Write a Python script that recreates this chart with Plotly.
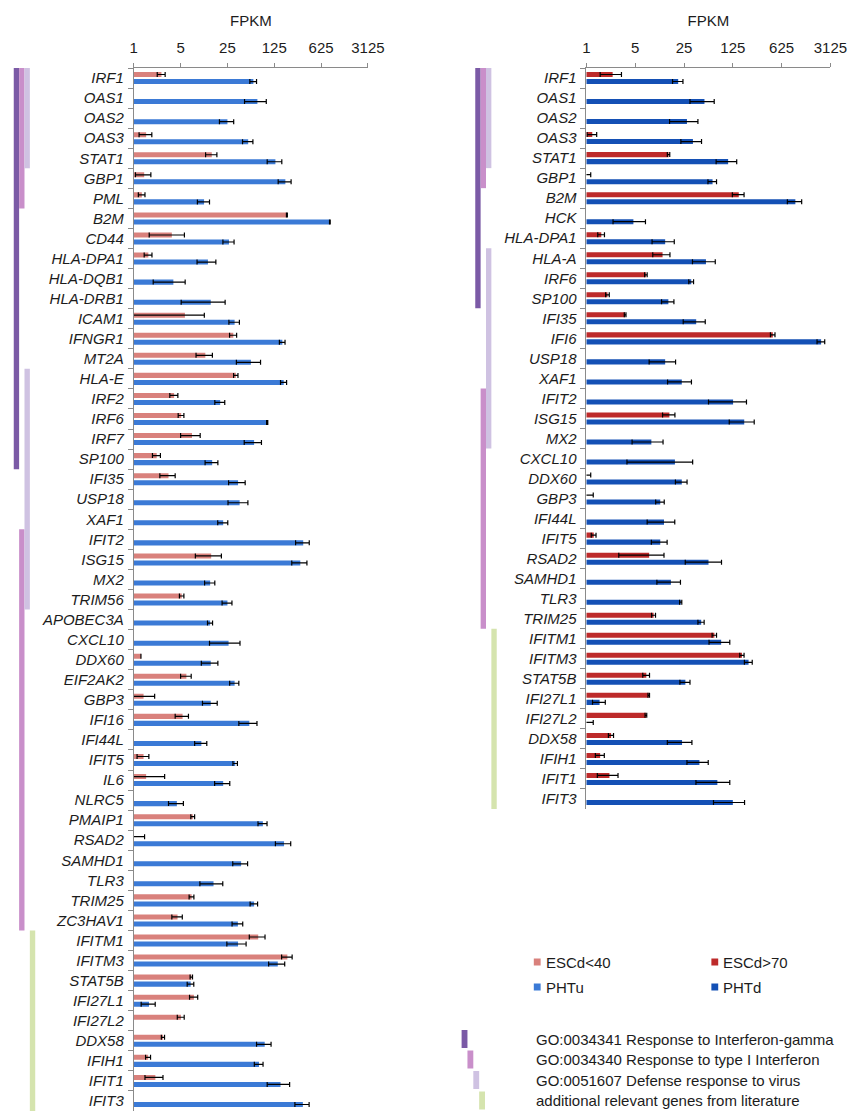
import math
import plotly.graph_objects as go

# ---------------- data ----------------
left_genes = [
    "IRF1", "OAS1", "OAS2", "OAS3", "STAT1", "GBP1", "PML", "B2M", "CD44", "HLA-DPA1",
    "HLA-DQB1", "HLA-DRB1", "ICAM1", "IFNGR1", "MT2A", "HLA-E", "IRF2", "IRF6", "IRF7", "SP100",
    "IFI35", "USP18", "XAF1", "IFIT2", "ISG15", "MX2", "TRIM56", "APOBEC3A", "CXCL10", "DDX60",
    "EIF2AK2", "GBP3", "IFI16", "IFI44L", "IFIT5", "IL6", "NLRC5", "PMAIP1", "RSAD2", "SAMHD1",
    "TLR3", "TRIM25", "ZC3HAV1", "IFITM1", "IFITM3", "STAT5B", "IFI27L1", "IFI27L2", "DDX58", "IFIH1",
    "IFIT1", "IFIT3",
]
esc_early = [
    2.59, None, None, 1.53, 14.6, 1.43, 1.32, 193, 3.7, 1.65,
    None, None, 5.8, 30.6, 11.7, 33.4, 4.0, 5.1, 7.4, 2.2,
    3.3, None, None, None, 14.3, None, 5.2, None, None, 1.28,
    6.1, 1.4, 5.35, None, 1.4, 1.53, None, 7.6, 0.95, None,
    None, 7.3, 4.5, 72, 196, 7.23, 7.9, 5.06, 2.73, 1.64,
    2.1, None,
]
esc_early_err = [
    0.35, 0, 0, 0.33, 2.8, 0.37, 0.15, 3, 2.0, 0.22,
    0, 0, 5.5, 3.7, 3.2, 2.5, 0.55, 0.5, 2.4, 0.3,
    0.85, 0, 0, 0, 6.0, 0, 0.4, 0, 0, 0,
    1.1, 0.65, 1.2, 0, 0.28, 1.36, 0, 0.5, 0.5, 0,
    0, 0.6, 0.8, 19, 35, 0.3, 1.1, 0.6, 0.15, 0.14,
    0.63, 0,
]
pht_u = [
    61, 70, 25, 51, 130, 183, 11.2, 845, 26.4, 12.8,
    3.9, 14.1, 32, 165, 56, 173, 19.5, 98, 62.5, 14.8,
    36, 38, 21.6, 338, 306, 13.8, 25, 13.8, 26, 14.1,
    32, 14.1, 53, 10.2, 32.7, 21.6, 4.4, 84.5, 175, 40,
    15.5, 62.5, 35.8, 36, 141, 7.07, 1.69, None, 90, 74,
    155, 334,
]
pht_u_err = [
    7, 25, 6, 9, 32, 40, 2.3, 10, 5, 4,
    1.95, 9, 5.7, 16, 22, 18, 3.3, 2, 18, 3.2,
    10, 12.5, 3.7, 78, 78, 2.4, 4.2, 1.2, 12.5, 3.9,
    5, 3.5, 16, 2.1, 2.5, 5.5, 1.1, 13, 45, 10,
    5.8, 8, 6.5, 11.5, 38, 0.8, 0.4, 0, 22, 11,
    57, 80,
]

right_genes = [
    "IRF1", "OAS1", "OAS2", "OAS3", "STAT1", "GBP1", "B2M", "HCK", "HLA-DPA1", "HLA-A",
    "IRF6", "SP100", "IFI35", "IFI6", "USP18", "XAF1", "IFIT2", "ISG15", "MX2", "CXCL10",
    "DDX60", "GBP3", "IFI44L", "IFIT5", "RSAD2", "SAMHD1", "TLR3", "TRIM25", "IFITM1", "IFITM3",
    "STAT5B", "IFI27L1", "IFI27L2", "DDX58", "IFIH1", "IFIT1", "IFIT3",
]
esc_late = [
    2.37, None, None, 1.21, 15, 0.98, 152, None, 1.63, 12.3,
    7.1, 2.0, 3.58, 467, None, None, None, 15.4, None, None,
    0.95, 0.95, None, 1.27, 7.9, None, None, 9.15, 68, 169,
    7.2, 7.8, 7.1, 2.25, 1.57, 2.13, None,
]
esc_late_err = [
    0.8, 0, 0, 0.19, 0.6, 0.17, 29, 0, 0.18, 3.4,
    0.3, 0.12, 0.1, 35, 0, 0, 0, 3.1, 0, 0,
    0.2, 0.3, 0, 0.1, 5, 0, 0, 0.6, 5, 12,
    0.8, 0.2, 0.2, 0.19, 0.23, 0.7, 0,
]
pht_d = [
    20.6, 49, 27.5, 33.5, 107, 64, 983, 4.7, 13.4, 51.5,
    31.7, 14.9, 37.3, 2300, 13.4, 23.2, 126, 182, 8.5, 18.5,
    23.2, 11.4, 12.9, 11.4, 56, 16.2, 22.4, 44, 85, 210,
    26.1, 1.54, 0.95, 23.4, 41.5, 75, 125,
]
pht_d_err = [
    3.5, 18.6, 12, 11, 35, 9, 228, 2.3, 4.7, 18.5,
    2.5, 3, 13, 290, 5.5, 8.7, 70, 71, 4, 14.7,
    4.4, 1.6, 5.5, 2.9, 30, 6, 0.8, 4.5, 28, 27,
    4.3, 0.32, 0.3, 9, 14, 38, 59,
]

series_names = ["ESCd<40", "PHTu", "ESCd>70", "PHTd"]
tick_values = [1, 5, 25, 125, 625, 3125]
axis_title = "FPKM"

go_terms = [
    "GO:0034341 Response to Interferon-gamma",
    "GO:0034340 Response to type I Interferon",
    "GO:0051607 Defense response to virus",
    "additional relevant genes from literature",
]
# gene ranges (first, last) annotated with each term, per panel
left_spans = [
    [("IRF1", "SP100")],
    [("IRF1", "PML"), ("IFIT2", "ZC3HAV1")],
    [("IRF1", "STAT1"), ("HLA-E", "TRIM56")],
    [("IFITM1", "IFIT3")],
]
right_spans = [
    [("IRF1", "SP100")],
    [("IRF1", "GBP1"), ("IFIT2", "TRIM25")],
    [("IRF1", "STAT1"), ("HLA-A", "MX2")],
    [("IFITM1", "IFIT3")],
]

# ---------------- styling ----------------
W, H = 864, 1111
FONT = "Arial, 'Liberation Sans', Helvetica, sans-serif"
TEXT = "#1c1c1c"
AXIS = "#8a8a8a"
series_colors = ["#d9817c", "#3b7ad6", "#bd2a2a", "#1450b5"]
term_colors = ["#7b5aa6", "#c98fca", "#cfc2e2", "#d5e4ae"]


def px_x(p):
    return p / W


def px_y(p):
    return 1 - p / H


err_style = dict(type="data", color="black", thickness=1.2, width=2.5, visible=True)

fig = go.Figure()
panels = [
    ("x", "y", left_genes, [(esc_early, esc_early_err), (pht_u, pht_u_err)], [0, 1]),
    ("x2", "y2", right_genes, [(esc_late, esc_late_err), (pht_d, pht_d_err)], [2, 3]),
]
for xa, ya, genes, pairs, idx in panels:
    for (vals, errs), k in zip(pairs, idx):
        fig.add_trace(go.Bar(
            y=genes, x=vals, orientation="h", name=series_names[k],
            marker=dict(color=series_colors[k], line=dict(width=0)),
            error_x=dict(array=errs, **err_style),
            xaxis=xa, yaxis=ya, showlegend=False,
        ))

x_common = dict(
    type="log", range=[0, math.log10(tick_values[-1])], side="top",
    tickmode="array", tickvals=tick_values, ticktext=[str(v) for v in tick_values],
    ticks="outside", ticklen=4, tickcolor=AXIS, tickwidth=1,
    showline=True, linecolor=AXIS, linewidth=1,
    showgrid=False, zeroline=False,
    tickfont=dict(size=15, color=TEXT, family=FONT),
    ticklabelstandoff=4,
    title=dict(text=axis_title, font=dict(size=15, color=TEXT, family=FONT), standoff=8),
)
y_common = dict(
    type="category", categoryorder="array",
    showline=True, linecolor=AXIS, linewidth=1,
    ticks="outside", tickson="boundaries", ticklen=5, tickcolor=AXIS, tickwidth=1,
    showgrid=False, zeroline=False,
    tickfont=dict(size=15, color=TEXT, family=FONT, style="italic"),
    ticklabelstandoff=6,
)

fig.update_layout(
    width=W, height=H,
    margin=dict(l=0, r=0, t=0, b=0),
    paper_bgcolor="white", plot_bgcolor="white",
    font=dict(family=FONT, color=TEXT, size=15),
    barmode="group", bargap=0.3, bargroupgap=0.28,
    xaxis=dict(domain=[px_x(133), px_x(373)], anchor="y", **x_common),
    yaxis=dict(domain=[0, px_y(68)], anchor="x", categoryarray=left_genes,
               range=[len(left_genes) - 0.5, -0.5], **y_common),
    xaxis2=dict(domain=[px_x(597), px_x(847)], anchor="y2", **x_common),
    yaxis2=dict(domain=[px_y(809), px_y(68)], anchor="x2", categoryarray=right_genes,
                range=[len(right_genes) - 0.5, -0.5], **y_common),
)

# ---------------- GO-term strips beside each panel ----------------
shapes = []
strip_w = 5.5
for genes, spans, yref, x_start in [(left_genes, left_spans, "y", 10), (right_genes, right_spans, "y2", 483)]:
    for k, term_spans in enumerate(spans):
        x0 = x_start + k * strip_w
        for first, last in term_spans:
            shapes.append(dict(
                type="rect", xref="paper", yref=yref,
                x0=px_x(x0), x1=px_x(x0 + strip_w),
                y0=genes.index(first) - 0.5, y1=genes.index(last) + 0.5,
                fillcolor=term_colors[k], line=dict(width=0), layer="above",
            ))

annotations = []
# series legend
legend_pos = {0: (543, 962), 1: (543, 987), 2: (725, 962), 3: (725, 987)}
for k, name in enumerate(series_names):
    lx, ly = legend_pos[k]
    shapes.append(dict(
        type="rect", xref="paper", yref="paper",
        x0=px_x(lx), x1=px_x(lx + 7), y0=px_y(ly - 3.5), y1=px_y(ly + 3.5),
        fillcolor=series_colors[k], line=dict(width=0),
    ))
    annotations.append(dict(
        x=px_x(lx + 10), y=px_y(ly), xref="paper", yref="paper",
        text=name, showarrow=False, xanchor="left", yanchor="middle",
        font=dict(size=15, color=TEXT, family=FONT),
    ))

# GO-term legend (staircase keys)
for k, term in enumerate(go_terms):
    ty = 1039 + 20.5 * k
    kx = 469 + 6 * k
    shapes.append(dict(
        type="rect", xref="paper", yref="paper",
        x0=px_x(kx), x1=px_x(kx + 6), y0=px_y(ty + 9), y1=px_y(ty - 9),
        fillcolor=term_colors[k], line=dict(width=0),
    ))
    annotations.append(dict(
        x=px_x(543), y=px_y(ty), xref="paper", yref="paper",
        text=term, showarrow=False, xanchor="left", yanchor="middle",
        font=dict(size=15, color=TEXT, family=FONT),
    ))

fig.update_layout(shapes=shapes, annotations=annotations)
fig.write_html("out.html")
